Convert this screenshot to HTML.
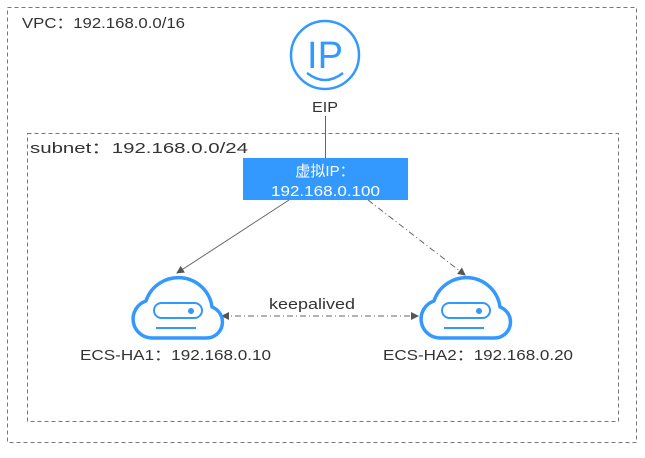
<!DOCTYPE html>
<html><head><meta charset="utf-8"><style>
html,body{margin:0;padding:0;background:#fff}
svg text{font-family:"Liberation Sans","Noto Sans CJK SC",sans-serif;}
</style></head><body>
<svg width="645" height="453" viewBox="0 0 645 453" xmlns="http://www.w3.org/2000/svg">
<defs>
<marker id="ah" markerWidth="8" markerHeight="8" refX="7" refY="4" orient="auto" markerUnits="userSpaceOnUse"><path d="M0,0 L8,4 L0,8 Z" fill="#555"/></marker>
<marker id="as" markerWidth="8" markerHeight="8" refX="1" refY="4" orient="auto" markerUnits="userSpaceOnUse"><path d="M8,0 L0,4 L8,8 Z" fill="#555"/></marker>
<g id="cloud">
<path d="M-26,30 H28 A16,16 0 0 0 34,-1 A34,34 0 0 0 -32,-7 A19,19 0 0 0 -26,30 Z" fill="none" stroke="#3399ff" stroke-width="3.5" stroke-linejoin="round"/>
<rect x="-24" y="-5" width="48" height="15" rx="7.5" fill="none" stroke="#3399ff" stroke-width="2"/>
<circle cx="13" cy="3" r="3" fill="#3399ff"/>
<line x1="-22" y1="20" x2="18" y2="20" stroke="#3399ff" stroke-width="2"/>
</g>
</defs>
<rect x="7.5" y="7.5" width="629" height="435" fill="none" stroke="#777" stroke-dasharray="4,3"/>
<rect x="27.5" y="133.5" width="591" height="288" fill="none" stroke="#777" stroke-dasharray="4,3"/>
<text x="22" y="28" font-size="15" fill="#333" textLength="163" lengthAdjust="spacingAndGlyphs">VPC：192.168.0.0/16</text>
<text x="30" y="153" font-size="15" fill="#333" textLength="218" lengthAdjust="spacingAndGlyphs">subnet：192.168.0.0/24</text>
<circle cx="325" cy="55" r="34" fill="none" stroke="#3399ff" stroke-width="2.5"/>
<text x="325" y="68" font-size="38" fill="#3399ff" text-anchor="middle">IP</text>
<path d="M307,73 Q325,87 343,73" fill="none" stroke="#3399ff" stroke-width="2.5"/>
<text x="312" y="112" font-size="15" fill="#333" textLength="26" lengthAdjust="spacingAndGlyphs">EIP</text>
<line x1="325.5" y1="116" x2="325.5" y2="158" stroke="#666" stroke-width="1"/>
<rect x="243" y="158" width="165" height="42" fill="#3399ff"/>
<text x="325" y="176" font-size="15" fill="#fff" text-anchor="middle">虚拟IP：</text>
<text x="271" y="196" font-size="15" fill="#fff" textLength="109" lengthAdjust="spacingAndGlyphs">192.168.0.100</text>
<line x1="289" y1="200" x2="177" y2="273" stroke="#666" stroke-width="1" marker-end="url(#ah)"/>
<line x1="368" y1="200" x2="465" y2="275" stroke="#666" stroke-width="1" stroke-dasharray="6,3,1,3" marker-end="url(#ah)"/>
<line x1="222" y1="316" x2="418" y2="316" stroke="#666" stroke-width="1" stroke-dasharray="6,3,1,3" marker-start="url(#as)" marker-end="url(#ah)"/>
<text x="269" y="309" font-size="15" fill="#333" textLength="86" lengthAdjust="spacingAndGlyphs">keepalived</text>
<use href="#cloud" x="178" y="308"/>
<use href="#cloud" x="466" y="308"/>
<text x="80" y="360" font-size="15" fill="#333" textLength="191" lengthAdjust="spacingAndGlyphs">ECS-HA1：192.168.0.10</text>
<text x="383" y="360" font-size="15" fill="#333" textLength="190" lengthAdjust="spacingAndGlyphs">ECS-HA2：192.168.0.20</text>
</svg>
</body></html>
